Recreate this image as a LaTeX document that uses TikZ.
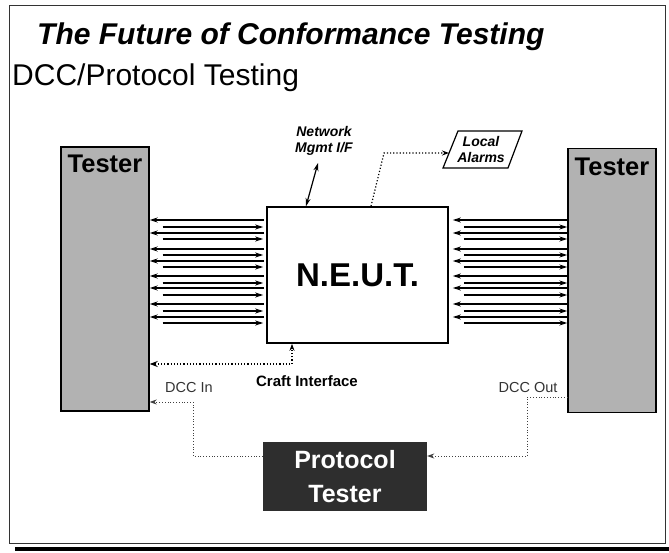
\documentclass[tikz,border=0pt]{standalone}
\usepackage{fontspec}
\setmainfont{Liberation Sans}
\usetikzlibrary{arrows.meta,calc}
\begin{document}
\begin{tikzpicture}[x=1pt,y=-1pt,
  testerbox/.style={draw,line width=1.4pt,fill=black!30,minimum width=88pt,minimum height=264pt,inner sep=0pt},
  tlabel/.style={font=\fontsize{25.5}{25.5}\selectfont\bfseries,inner sep=0pt},
  link/.style={line width=1.3pt,-{Stealth[length=8pt,width=5pt]}},
  dots/.style={line width=1.2pt,dotted},
  faintdots/.style={line width=0.8pt,dotted,black!75},
  tip/.style={-{Stealth[length=7pt,width=5pt]}},
  small/.style={font=\fontsize{14}{16.5}\selectfont\bfseries\itshape,inner sep=0pt,align=center},
  dcc/.style={font=\fontsize{14.5}{15}\selectfont,black!80,inner sep=0pt}]
\useasboundingbox (0,0) rectangle (669,553);

% page frame and bottom rule
\draw[line width=0.7pt,black!80] (9,5) rectangle (665,543);
\fill (15,547) rectangle (669,551);

% headings
\node[anchor=base west,inner sep=0pt,font=\fontsize{30}{30}\selectfont\bfseries\itshape] (title) at (37,45) {The Future of Conformance Testing};
\node[anchor=base west,inner sep=0pt,font=\fontsize{30}{30}\selectfont] (sub) at (12,86) {DCC/Protocol Testing};

% testers and the equipment under test
\node[testerbox] (tl) at (105,279) {};
\node[testerbox] (tr) at (612,280.5) {};
\node[tlabel] (tlt) at (105,164) {Tester};
\node[tlabel] (trt) at (612,167) {Tester};
\node[draw,line width=1.6pt,minimum width=181pt,minimum height=136pt,inner sep=0pt,
      font=\fontsize{33}{33}\selectfont\bfseries] (neut) at (357.5,275) {N.E.U.T.};

% traffic between the testers and the N.E.U.T.
\foreach \y in {220,233,249,261,276,288,304,317}{
  \draw[link] ($(neut.west |- 0,\y)+(-2,0)$) -- (tl.east |- 0,\y);
  \draw[link] (tr.west |- 0,\y) -- ($(neut.east |- 0,\y)+(4,0)$);
}
\foreach \y in {227,239,255,267,283,295,311,323}{
  \draw[link] ($(tl.east |- 0,\y)+(13,0)$) -- ($(neut.west |- 0,\y)+(-3,0)$);
  \draw[link] ($(neut.east |- 0,\y)+(15,0)$) -- (tr.west |- 0,\y);
}

% network management interface
\node[small] (nm) at (324,141) {Network\\Mgmt I/F};
\coordinate (nmtop) at (318,163);
\draw[line width=1.2pt,{Stealth[length=8pt,width=5pt]}-{Stealth[length=8pt,width=5pt]}]
  (nmtop) -- (neut.north -| 306,0);

% local alarms
\draw[line width=1.2pt] (458,131) -- (522,131) -- (508,168) -- (443,168) -- cycle;
\node[small] (la) at (481,149.5) {Local\\Alarms};
\coordinate (laIn) at (449,153);
\draw[dots,tip] (neut.north -| 371,0) -- (384,153) -- (laIn);

% craft interface
\draw[dots,{Stealth[length=8pt,width=6pt]}-{Stealth[length=7pt,width=5pt]}]
  (tl.east |- 0,364) -- (292,364) -- (neut.south -| 292,0);
\node[inner sep=0pt,font=\fontsize{15}{15}\selectfont\bfseries] (craft) at (307,381) {Craft Interface};

% protocol tester and the DCC links
\node[fill=black!82,minimum width=164pt,minimum height=69pt,inner sep=0pt,align=center,
      text=white,font=\fontsize{25}{34}\selectfont\bfseries] (pt) at (345,476.5) {Protocol\\Tester};
\node[dcc] (dccin) at (189,388) {DCC In};
\node[dcc] (dccout) at (528,388) {DCC Out};
\draw[faintdots,tip] (pt.west |- 0,456) -- (193,456) -- (193,402) -- (tl.east |- 0,402);
\draw[faintdots,tip] (tr.west |- 0,397) -- (527,397) -- (527,456) -- (pt.east |- 0,456);
\end{tikzpicture}
\end{document}
